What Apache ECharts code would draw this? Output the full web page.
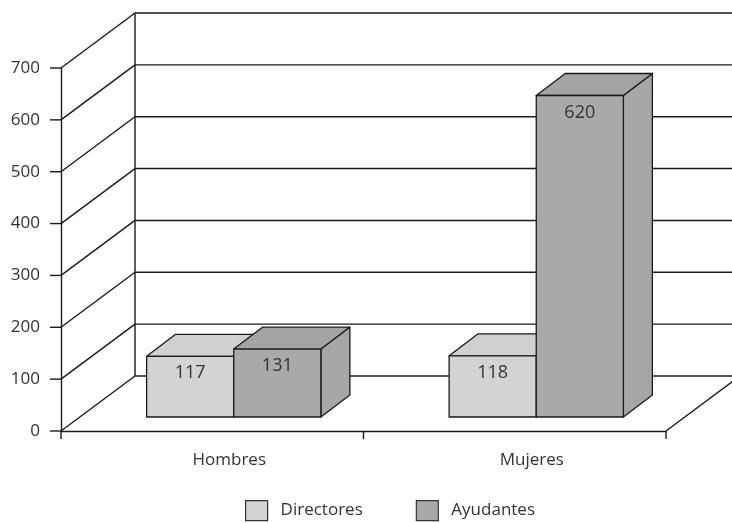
<!DOCTYPE html>
<html>
<head>
<meta charset="utf-8">
<script src="https://cdn.jsdelivr.net/npm/echarts@6/dist/echarts.min.js"></script>
<style>
  html, body { margin: 0; padding: 0; background: #fff; }
  #chart { width: 732px; height: 523px; }
</style>
</head>
<body>
<div id="chart"></div>
<script>
  // data
  const categories = ['Hombres', 'Mujeres'];
  const seriesNames = ['Directores', 'Ayudantes'];
  const directores = [117, 118];
  const ayudantes = [131, 620];
  const yTicks = [0, 100, 200, 300, 400, 500, 600, 700];

  // fake 3d: depth of the floor and where the bars sit in it
  const DX = 74, DY = -55;
  const FX = 21.5, FY = -14;
  const BX = 29, BY = -22;
  const BAR_RATIO = 0.288;
  const TICK = 11;
  const LINE = '#1a1a1a';
  const FONT = 'Open Sans';

  const colors = [
    { front: '#d2d3d5', top: '#cfd0d2', side: '#c6c7c9' },
    { front: '#a8a9ab', top: '#a3a4a6', side: '#a5a6a8' }
  ];

  function seg(x1, y1, x2, y2) {
    return {
      type: 'line',
      shape: { x1: x1, y1: y1, x2: x2, y2: y2 },
      style: { stroke: LINE, lineWidth: 1.4 }
    };
  }

  // side wall diagonals, back wall lines, floor edge and ticks
  function renderWalls(params, api) {
    const v = api.value(1);
    const p = api.coord([0, v]);
    const band = api.size([1, 0])[0];
    const left = p[0] - band / 2;
    const right = left + band * categories.length;
    const y = p[1];
    const children = [
      seg(left - TICK, y, left, y),
      seg(left, y, left + DX, y + DY),
      seg(left + DX, y + DY, right + DX, y + DY)
    ];
    if (v === 0) {
      const top = api.coord([0, yTicks[yTicks.length - 1]])[1];
      children.push(seg(right, y, right + DX, y + DY));
      children.push(seg(left + DX, top + DY, left + DX, y + DY));
      for (let i = 0; i <= categories.length; i++) {
        children.push(seg(left + band * i, y, left + band * i, y + 8));
      }
    }
    return { type: 'group', children: children };
  }

  function barRenderer(slot) {
    const c = colors[slot];
    return function (params, api) {
      const idx = api.value(0);
      const val = api.value(1);
      const base = api.coord([idx, 0]);
      const top = api.coord([idx, val]);
      const band = api.size([1, 0])[0];
      const w = band * BAR_RATIO;
      const x0 = base[0] + (slot === 0 ? -w : 0) + FX;
      const x1 = x0 + w;
      const yb = base[1] + FY;
      const yt = top[1] + FY;
      const edge = { stroke: LINE, lineWidth: 1.3, lineJoin: 'round' };
      return {
        type: 'group',
        children: [
          {
            type: 'polygon',
            shape: { points: [[x1, yt], [x1 + BX, yt + BY], [x1 + BX, yb + BY], [x1, yb]] },
            style: Object.assign({ fill: c.side }, edge)
          },
          {
            type: 'polygon',
            shape: { points: [[x0, yt], [x0 + BX, yt + BY], [x1 + BX, yt + BY], [x1, yt]] },
            style: Object.assign({ fill: c.top }, edge)
          },
          {
            type: 'rect',
            shape: { x: x0, y: yt, width: w, height: yb - yt },
            style: Object.assign({ fill: c.front }, edge)
          },
          {
            type: 'text',
            style: {
              x: (x0 + x1) / 2, y: yt + 17,
              text: String(val),
              fill: '#333', font: '18px "' + FONT + '"',
              align: 'center', verticalAlign: 'middle'
            }
          }
        ]
      };
    };
  }

  const chart = echarts.init(document.getElementById('chart'));
  chart.setOption({
    animation: false,
    backgroundColor: '#fff',
    textStyle: { fontFamily: FONT },
    grid: { left: 61, right: 66, top: 68, bottom: 92 },
    legend: {
      data: seriesNames,
      left: 240,
      top: 495,
      itemWidth: 22,
      itemHeight: 20,
      itemGap: 53,
      icon: 'rect',
      itemStyle: { borderColor: '#333', borderWidth: 1.2 },
      textStyle: { fontSize: 17, color: '#333', padding: [0, 0, 0, 8] }
    },
    xAxis: {
      type: 'category',
      data: categories,
      axisLine: { lineStyle: { color: LINE, width: 1.4 } },
      axisTick: { show: false },
      axisLabel: { color: '#333', fontSize: 17, margin: 21, padding: [0, 0, 0, 34] }
    },
    yAxis: {
      type: 'value',
      min: 0,
      max: 700,
      interval: 100,
      splitLine: { show: false },
      axisLine: { show: true, lineStyle: { color: LINE, width: 1.4 } },
      axisTick: { show: false },
      axisLabel: { color: '#333', fontSize: 17, margin: 21 }
    },
    series: [
      {
        name: 'walls',
        type: 'custom',
        silent: true,
        z: 1,
        renderItem: renderWalls,
        encode: { x: 0, y: 1 },
        data: yTicks.map(function (v) { return [0, v]; })
      },
      {
        name: seriesNames[0],
        type: 'custom',
        z: 2,
        itemStyle: { color: colors[0].front },
        renderItem: barRenderer(0),
        encode: { x: 0, y: 1 },
        data: directores.map(function (v, i) { return [i, v]; })
      },
      {
        name: seriesNames[1],
        type: 'custom',
        z: 3,
        itemStyle: { color: colors[1].front },
        renderItem: barRenderer(1),
        encode: { x: 0, y: 1 },
        data: ayudantes.map(function (v, i) { return [i, v]; })
      }
    ]
  });
</script>
</body>
</html>
